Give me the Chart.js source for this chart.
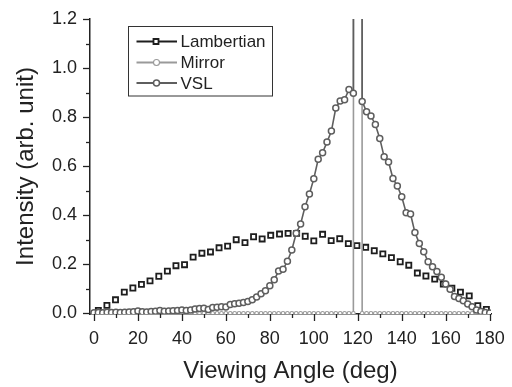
<!DOCTYPE html>
<html><head><meta charset="utf-8">
<script src="https://cdn.jsdelivr.net/npm/chart.js@4.4.0/dist/chart.umd.min.js"></script>
<style>html,body{margin:0;padding:0;background:#fff}canvas{display:block}</style>
</head><body>
<canvas id="c" width="512" height="387"></canvas>
<script>
const seriesNames = ['Lambertian', 'Mirror', 'VSL'];

const lambertAngles = [2, 5.9, 9.8, 13.8, 17.7, 21.6, 25.5, 29.5, 33.4, 37.3, 41.2, 45.1, 49.1, 53.0, 56.9, 60.8, 64.7, 68.7, 72.6, 76.5, 80.4, 84.4, 88.3, 92.2, 96.1, 100.0, 104.0, 107.9, 111.8, 115.7, 119.6, 123.6, 127.5, 131.4, 135.3, 139.3, 143.2, 147.1, 151.0, 155.0, 158.9, 162.8, 166.7, 170.7, 174.6, 178.5];
const lambertValues = [0.012, 0.032, 0.055, 0.086, 0.103, 0.118, 0.132, 0.151, 0.172, 0.194, 0.198, 0.229, 0.245, 0.250, 0.267, 0.274, 0.300, 0.288, 0.312, 0.303, 0.318, 0.323, 0.326, 0.326, 0.314, 0.295, 0.322, 0.296, 0.304, 0.284, 0.276, 0.269, 0.255, 0.242, 0.227, 0.210, 0.196, 0.164, 0.152, 0.139, 0.119, 0.102, 0.086, 0.071, 0.031, 0.016];

const vslAngles = [0, 2, 4, 6, 8, 10, 12, 14, 16, 18, 20, 22, 24, 26, 28, 30, 32, 34, 36, 38, 40, 42, 44, 46, 48, 50, 52, 54, 56, 58, 60, 62, 64, 66, 68, 70, 72, 74, 76, 78, 80, 82, 84, 86, 88, 90, 92, 94, 96, 98, 100, 102, 104, 106, 108, 110, 112, 114, 116, 118, 120, 122, 124, 126, 128, 130, 132, 134, 136, 138, 140, 142, 144, 146, 148, 150, 152, 154, 156, 158, 160, 162, 164, 166, 168, 170, 172, 174, 176, 178, 180];
const vslValues = [0.002, 0.003, 0.002, 0.004, 0.003, 0.004, 0.003, 0.004, 0.005, 0.006, 0.009, 0.006, 0.005, 0.007, 0.008, 0.011, 0.008, 0.009, 0.010, 0.011, 0.013, 0.011, 0.013, 0.017, 0.019, 0.020, 0.015, 0.023, 0.025, 0.027, 0.026, 0.036, 0.039, 0.041, 0.044, 0.048, 0.055, 0.066, 0.080, 0.092, 0.112, 0.137, 0.172, 0.179, 0.212, 0.258, 0.326, 0.364, 0.434, 0.486, 0.549, 0.628, 0.655, 0.698, 0.743, 0.837, 0.866, 0.871, 0.913, 0.897, 50, 0.864, 0.822, 0.804, 0.770, 0.713, 0.638, 0.617, 0.550, 0.519, 0.475, 0.410, 0.405, 0.329, 0.285, 0.251, 0.210, 0.190, 0.170, 0.147, 0.119, 0.098, 0.068, 0.060, 0.051, 0.038, 0.027, 0.013, 0.007, 0.003, 0.001];

const mirrorAngles = [0, 2, 4, 6, 8, 10, 12, 14, 16, 18, 20, 22, 24, 26, 28, 30, 32, 34, 36, 38, 40, 42, 44, 46, 48, 50, 52, 54, 56, 58, 60, 62, 64, 66, 68, 70, 72, 74, 76, 78, 80, 82, 84, 86, 88, 90, 92, 94, 96, 98, 100, 102, 104, 106, 108, 110, 112, 114, 116, 118, 120, 122, 124, 126, 128, 130, 132, 134, 136, 138, 140, 142, 144, 146, 148, 150, 152, 154, 156, 158, 160, 162, 164, 166, 168, 170, 172, 174, 176, 178, 180];
const mirrorValues = [0, 0, 0, 0, 0, 0, 0, 0, 0, 0, 0, 0, 0, 0, 0, 0, 0, 0, 0, 0, 0, 0, 0, 0, 0, 0, 0, 0, 0, 0, 0, 0, 0, 0, 0, 0, 0, 0, 0, 0, 0, 0, 0, 0, 0, 0, 0, 0, 0, 0, 0, 0, 0, 0, 0, 0, 0, 0, 0, 0, 50, 0, 0, 0, 0, 0, 0, 0, 0, 0, 0, 0, 0, 0, 0, 0, 0, 0, 0, 0, 0, 0, 0, 0, 0, 0, 0, 0, 0, 0, 0];

const xTickValues = [0, 10, 20, 30, 40, 50, 60, 70, 80, 90, 100, 110, 120, 130, 140, 150, 160, 170, 180];
const yTickValues = [0, 0.1, 0.2, 0.3, 0.4, 0.5, 0.6, 0.7, 0.8, 0.9, 1.0, 1.1, 1.2];
const xMajorLabels = [0, 20, 40, 60, 80, 100, 120, 140, 160, 180];
const yMajorLabels = [0, 0.2, 0.4, 0.6, 0.8, 1.0, 1.2];

const FONT = "'Liberation Sans', Arial, Helvetica, sans-serif";
const toXY = (xs, ys) => xs.map((x, i) => ({x: x, y: ys[i]}));
const isMajor = (list, v) => list.some(m => Math.abs(m - v) < 1e-6);

const tickPlugin = {
  id: 'axisTicks',
  afterDraw(chart) {
    const {ctx} = chart;
    const xs = chart.scales.x, ys = chart.scales.y;
    ctx.save();
    ctx.strokeStyle = '#222';
    ctx.lineWidth = 1.3;
    xTickValues.forEach(v => {
      const px = Math.round(xs.getPixelForValue(v)) + 0.5;
      const len = isMajor(xMajorLabels, v) ? 7 : 4;
      ctx.beginPath(); ctx.moveTo(px, ys.bottom); ctx.lineTo(px, ys.bottom + len); ctx.stroke();
    });
    yTickValues.forEach(v => {
      const py = Math.round(ys.getPixelForValue(v)) + 0.5;
      const len = isMajor(yMajorLabels, v) ? 7 : 4;
      ctx.beginPath(); ctx.moveTo(xs.left, py); ctx.lineTo(xs.left - len, py); ctx.stroke();
    });
    ctx.restore();
  }
};

const legendPlugin = {
  id: 'boxLegend',
  afterDraw(chart) {
    const {ctx} = chart;
    const bx = 128.5, by = 26.5, bw = 144, bh = 69.5;
    ctx.save();
    ctx.strokeStyle = '#333';
    ctx.lineWidth = 1;
    ctx.strokeRect(bx, by, bw, bh);
    const rowsY = [41.5, 62.5, 83];
    chart.data.datasets.forEach((ds, i) => {
      const yy = rowsY[i];
      ctx.strokeStyle = ds.legendLine;
      ctx.lineWidth = 2;
      ctx.beginPath(); ctx.moveTo(136.5, yy); ctx.lineTo(177, yy); ctx.stroke();
      ctx.fillStyle = '#fff';
      ctx.strokeStyle = ds.pointBorderColor;
      ctx.lineWidth = ds.pointBorderWidth;
      ctx.beginPath();
      if (ds.pointStyle === 'rect') {
        ctx.rect(153.5, yy - 2.5, 5, 5);
      } else {
        ctx.arc(156.5, yy, 3, 0, Math.PI * 2);
      }
      ctx.fill(); ctx.stroke();
      ctx.fillStyle = '#222';
      ctx.font = '17px ' + FONT;
      ctx.textBaseline = 'middle';
      ctx.textAlign = 'left';
      ctx.fillText(ds.label, 180.5, yy + 1);
    });
    ctx.restore();
  }
};

new Chart(document.getElementById('c'), {
  type: 'scatter',
  data: {
    datasets: [
      {
        label: seriesNames[0],
        data: toXY(lambertAngles, lambertValues),
        showLine: false,
        pointStyle: 'rect',
        pointRadius: 3.6,
        pointBorderWidth: 1.8,
        pointBorderColor: '#1e1e1e',
        pointBackgroundColor: '#fff',
        legendLine: '#1e1e1e',
        order: 3
      },
      {
        label: seriesNames[1],
        data: toXY(mirrorAngles, mirrorValues),
        showLine: true,
        borderColor: '#9a9a9a',
        borderWidth: 1.6,
        pointStyle: 'circle',
        pointRadius: 1.8,
        pointBorderWidth: 1.1,
        pointBorderColor: '#9a9a9a',
        pointBackgroundColor: '#fff',
        legendLine: '#9a9a9a',
        order: 2
      },
      {
        label: seriesNames[2],
        data: toXY(vslAngles, vslValues),
        showLine: true,
        borderColor: '#5e5e5e',
        borderWidth: 1.6,
        pointStyle: 'circle',
        pointRadius: 3,
        pointBorderWidth: 1.5,
        pointBorderColor: '#5e5e5e',
        pointBackgroundColor: '#fff',
        legendLine: '#5e5e5e',
        order: 1
      }
    ]
  },
  options: {
    responsive: false,
    animation: false,
    devicePixelRatio: 1,
    layout: {padding: {top: 19, right: 21, left: 0, bottom: 0}},
    plugins: {legend: {display: false}, tooltip: {enabled: false}},
    scales: {
      x: {
        type: 'linear',
        min: -1.8,
        max: 180.6,
        afterBuildTicks: s => { s.ticks = xTickValues.map(v => ({value: v})); },
        afterFit: s => { s.height = 73; },
        border: {display: true, color: '#222', width: 1.5},
        grid: {display: true, drawOnChartArea: false, tickLength: 7, tickColor: 'rgba(0,0,0,0)'},
        ticks: {
          autoSkip: false, maxRotation: 0, padding: 7, color: '#222',
          font: {family: FONT, size: 18},
          callback: v => isMajor(xMajorLabels, v) ? String(Math.round(v)) : ''
        },
        title: {display: true, text: 'Viewing Angle (deg)', color: '#222',
          font: {family: FONT, size: 24}, padding: {top: 0, bottom: 1}}
      },
      y: {
        type: 'linear',
        min: -0.003,
        max: 1.2,
        afterBuildTicks: s => { s.ticks = yTickValues.map(v => ({value: v})); },
        afterFit: s => { s.width = 90; },
        border: {display: true, color: '#222', width: 1.5},
        grid: {display: true, drawOnChartArea: false, tickLength: 6, tickColor: 'rgba(0,0,0,0)'},
        ticks: {
          autoSkip: false, padding: 7, color: '#222',
          font: {family: FONT, size: 18},
          callback: v => isMajor(yMajorLabels, v) ? v.toFixed(1) : ''
        },
        title: {display: true, text: 'Intensity (arb. unit)', color: '#222',
          font: {family: FONT, size: 24}, padding: {top: 12, bottom: 0}}
      }
    }
  },
  plugins: [tickPlugin, legendPlugin]
});
</script>
</body></html>
